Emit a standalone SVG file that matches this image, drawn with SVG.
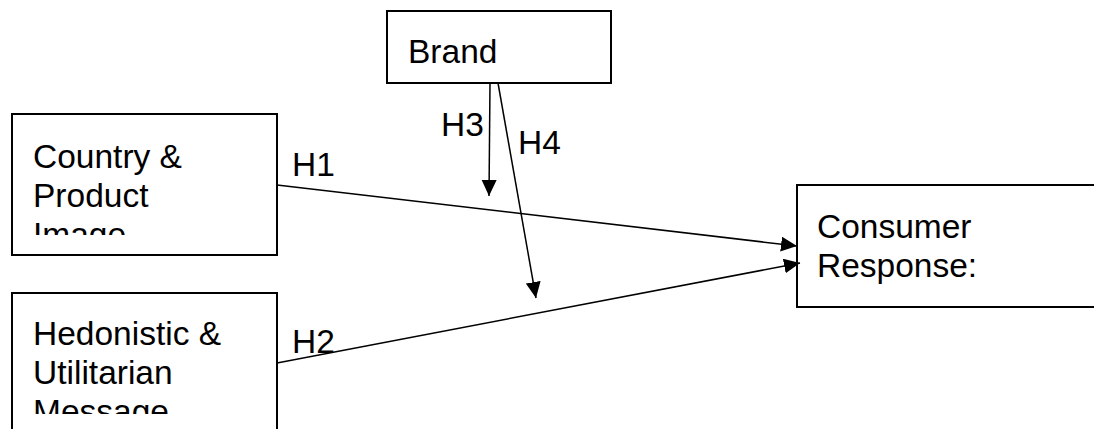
<svg xmlns="http://www.w3.org/2000/svg" width="1094" height="429" viewBox="0 0 1094 429">
<style>
.box{fill:#fff;stroke:#000;stroke-width:2}
.lbl{font-family:"Liberation Sans",Arial,sans-serif;font-size:33.5px;fill:#000}
.edge{stroke:#000;stroke-width:1.5;fill:none}
</style>
<defs>
<marker id="arr" markerUnits="userSpaceOnUse" markerWidth="17" markerHeight="16" refX="16" refY="7.5" orient="auto">
<path d="M0,0 L16,7.5 L0,15 Z" fill="#000"/>
</marker>
<clipPath id="c1"><rect x="12" y="114" width="265" height="121"/></clipPath>
<clipPath id="c2"><rect x="12" y="293" width="265" height="121"/></clipPath>
</defs>
<rect width="1094" height="429" fill="#fff"/>
<g id="brand">
<rect class="box" x="387" y="11" width="224" height="72"/>
<text class="lbl" x="408" y="63">Brand</text>
</g>
<g id="country">
<rect class="box" x="12" y="114" width="265" height="141"/>
<text class="lbl" clip-path="url(#c1)"><tspan x="33" y="168">Country &amp;</tspan><tspan x="33" y="207">Product</tspan><tspan x="33" y="246">Image</tspan></text>
</g>
<g id="hedonistic">
<rect class="box" x="12" y="293" width="265" height="150"/>
<text class="lbl" clip-path="url(#c2)"><tspan x="33" y="345">Hedonistic &amp;</tspan><tspan x="33" y="384">Utilitarian</tspan><tspan x="33" y="423">Message</tspan></text>
</g>
<g id="consumer">
<rect class="box" x="797" y="185" width="310" height="122"/>
<text class="lbl"><tspan x="817" y="238">Consumer</tspan><tspan x="817" y="277">Response:</tspan></text>
</g>
<g id="connectors">
<line class="edge" x1="277" y1="185" x2="797" y2="246" marker-end="url(#arr)"/>
<line class="edge" x1="277" y1="363" x2="800" y2="263" marker-end="url(#arr)"/>
<line class="edge" x1="490" y1="83" x2="489" y2="196" marker-end="url(#arr)"/>
<line class="edge" x1="498" y1="83" x2="536" y2="298" marker-end="url(#arr)"/>
<text class="lbl" x="292" y="176">H1</text>
<text class="lbl" x="292" y="353">H2</text>
<text class="lbl" x="441" y="136">H3</text>
<text class="lbl" x="518" y="154">H4</text>
</g>
</svg>
